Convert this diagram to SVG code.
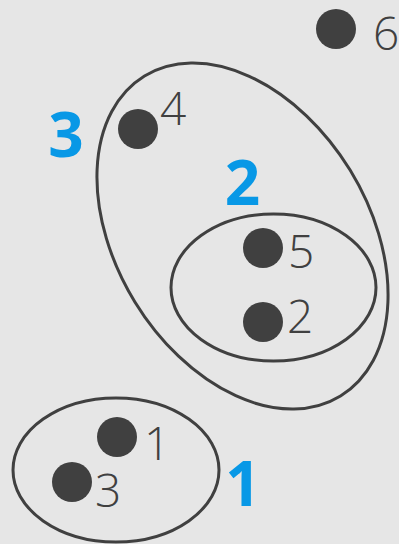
<svg xmlns="http://www.w3.org/2000/svg" width="399" height="544" viewBox="0 0 399 544">
<style>
.bg{fill:#e6e6e6}
.grp{fill:none;stroke:#404040;stroke-width:3}
.dot{fill:#404040}
.lbl{font-family:"Open Sans","Noto Sans",sans-serif;font-weight:300;font-size:46px;fill:#404040}
.big{font-family:"Open Sans","Noto Sans",sans-serif;font-weight:700;font-size:62px;fill:#0898e6;text-anchor:middle}
</style>
<rect class="bg" x="0" y="0" width="399" height="544"/>
<g id="connectors">
<ellipse id="group3" class="grp" cx="242.5" cy="236" rx="187.6" ry="126.2" transform="rotate(58.5 242.5 236)"/>
<ellipse id="group2" class="grp" cx="273.5" cy="287.5" rx="102.5" ry="73.5"/>
<ellipse id="group1" class="grp" cx="116" cy="470" rx="103" ry="72"/>
</g>
<g id="node6"><circle class="dot" cx="336" cy="29" r="20"/><text class="lbl" x="373" y="50">6</text></g>
<g id="node4"><circle class="dot" cx="138" cy="129" r="20"/><text class="lbl" x="160" y="125">4</text></g>
<g id="node5"><circle class="dot" cx="263" cy="248" r="20"/><text class="lbl" x="288" y="268">5</text></g>
<g id="node2"><circle class="dot" cx="263" cy="322" r="20"/><text class="lbl" x="287" y="333">2</text></g>
<g id="node1"><circle class="dot" cx="117" cy="437" r="20"/><text class="lbl" x="144" y="460">1</text></g>
<g id="node3"><circle class="dot" cx="72" cy="482" r="20"/><text class="lbl" x="95" y="507">3</text></g>
<g id="labels">
<text class="big" x="66" y="157">3</text>
<text class="big" x="242.5" y="205">2</text>
<text class="big" x="243" y="506">1</text>
</g>
</svg>
